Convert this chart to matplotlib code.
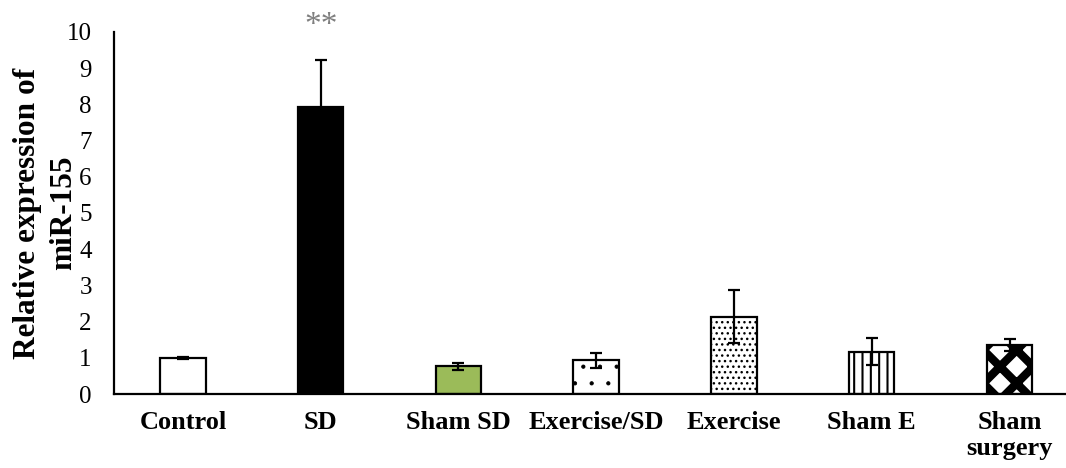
import matplotlib
matplotlib.use('Agg')
import matplotlib.pyplot as plt
import numpy as np

plt.rcParams['font.family'] = ['Liberation Serif', 'DejaVu Serif']

groups = ['Control', 'SD', 'Sham SD', 'Exercise/SD', 'Exercise', 'Sham E', 'Sham\nsurgery']
means = [1.0, 7.92, 0.77, 0.93, 2.14, 1.17, 1.35]
errors = [0.02, 1.29, 0.10, 0.21, 0.74, 0.37, 0.17]
faces = ['white', 'black', '#9bbb59', 'white', 'white', 'white', 'white']
hatches = [None, None, None, '.', '...', '||', 'x']
hatch_widths = [1.0, 1.0, 1.0, 0.6, 1.0, 1.5, 6.0]
star_label = '**'

fig = plt.figure(figsize=(10.66, 4.68), dpi=100)
ax = fig.add_axes([0.107, 0.158, 0.893, 0.774])

x = np.arange(len(groups))
for i in range(len(groups)):
    with plt.rc_context({'hatch.linewidth': hatch_widths[i]}):
        bars = ax.bar(x[i], means[i], width=0.33, color=faces[i], edgecolor='black',
                      linewidth=1.6, hatch=hatches[i], zorder=2)
    for b in bars:
        if hasattr(b, 'set_hatch_linewidth'):
            b.set_hatch_linewidth(hatch_widths[i])
    ax.errorbar(x[i], means[i], yerr=errors[i], fmt='none', ecolor='black',
                elinewidth=1.6, capsize=4.5, capthick=1.6, zorder=3)

# significance mark above SD
ax.text(x[1], means[1] + errors[1] + 0.95, star_label, ha='center', va='center',
        fontsize=24, color='#7f7f7f', clip_on=False)

ax.set_xlim(-0.5, 6.41)
ax.set_ylim(0, 10)
ax.set_yticks(range(0, 11))
ax.set_xticks(x)
ax.set_xticklabels(groups, fontsize=19, fontweight='bold', linespacing=1.2)
ax.tick_params(axis='y', length=0, pad=16, labelsize=18)
ax.tick_params(axis='x', length=0, pad=12)
ax.set_ylabel('Relative expression of\nmiR-155', fontsize=22.5, fontweight='bold',
              linespacing=1.35, va='center')
ax.yaxis.set_label_coords(-0.072, 0.5)

for s in ['top', 'right']:
    ax.spines[s].set_visible(False)
for s in ['left', 'bottom']:
    ax.spines[s].set_linewidth(1.6)
    ax.spines[s].set_zorder(4)

fig.savefig('out.png', dpi=100)
